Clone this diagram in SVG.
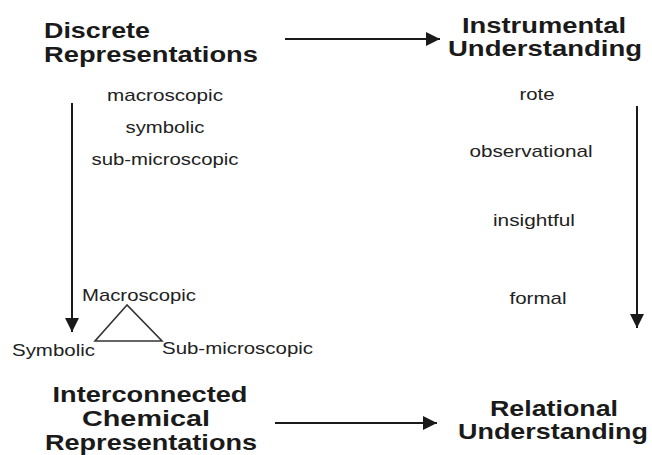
<svg xmlns="http://www.w3.org/2000/svg" width="652" height="455" viewBox="0 0 652 455">
<style>
.h{font-family:"Liberation Sans",Arial,sans-serif;font-weight:bold;font-size:22px;fill:#1a1a1a}
.s{font-family:"Liberation Sans",Arial,sans-serif;font-size:17px;fill:#222}
.ln{stroke:#1a1a1a;stroke-width:2;fill:none}
.tri{stroke:#333;stroke-width:1.6;fill:none}
</style>
<defs>
<marker id="ahv" viewBox="0 0 10 10" refX="10" refY="5" markerWidth="14" markerHeight="14" markerUnits="userSpaceOnUse" orient="auto">
<path d="M0,0 L10,5 L0,10 z" fill="#1a1a1a"/>
</marker>
</defs>
<g id="discrete">
<text class="h" x="44" y="38" textLength="106" lengthAdjust="spacingAndGlyphs">Discrete</text>
<text class="h" x="44" y="62" textLength="214" lengthAdjust="spacingAndGlyphs">Representations</text>
<text class="s" x="165" y="101" text-anchor="middle" textLength="116" lengthAdjust="spacingAndGlyphs">macroscopic</text>
<text class="s" x="165" y="133" text-anchor="middle" textLength="79" lengthAdjust="spacingAndGlyphs">symbolic</text>
<text class="s" x="165" y="165" text-anchor="middle" textLength="147" lengthAdjust="spacingAndGlyphs">sub-microscopic</text>
</g>
<g id="instrumental">
<text class="h" x="544" y="33" text-anchor="middle" textLength="164" lengthAdjust="spacingAndGlyphs">Instrumental</text>
<text class="h" x="545" y="56" text-anchor="middle" textLength="194" lengthAdjust="spacingAndGlyphs">Understanding</text>
<text class="s" x="537" y="100" text-anchor="middle" textLength="35" lengthAdjust="spacingAndGlyphs">rote</text>
<text class="s" x="531" y="157" text-anchor="middle" textLength="123" lengthAdjust="spacingAndGlyphs">observational</text>
<text class="s" x="534" y="226" text-anchor="middle" textLength="82" lengthAdjust="spacingAndGlyphs">insightful</text>
<text class="s" x="538" y="304" text-anchor="middle" textLength="57" lengthAdjust="spacingAndGlyphs">formal</text>
</g>
<g id="triangle">
<polygon class="tri" points="127,305 95,341 162,341"/>
<text class="s" x="82" y="301" textLength="114" lengthAdjust="spacingAndGlyphs">Macroscopic</text>
<text class="s" x="12" y="356" textLength="83" lengthAdjust="spacingAndGlyphs">Symbolic</text>
<text class="s" x="162" y="354" textLength="151" lengthAdjust="spacingAndGlyphs">Sub-microscopic</text>
</g>
<g id="interconnected">
<text class="h" x="150" y="402" text-anchor="middle" textLength="195" lengthAdjust="spacingAndGlyphs">Interconnected</text>
<text class="h" x="146" y="426" text-anchor="middle" textLength="128" lengthAdjust="spacingAndGlyphs">Chemical</text>
<text class="h" x="151" y="450" text-anchor="middle" textLength="212" lengthAdjust="spacingAndGlyphs">Representations</text>
</g>
<g id="relational">
<text class="h" x="554" y="416" text-anchor="middle" textLength="128" lengthAdjust="spacingAndGlyphs">Relational</text>
<text class="h" x="553" y="439" text-anchor="middle" textLength="190" lengthAdjust="spacingAndGlyphs">Understanding</text>
</g>
<g id="connectors">
<line class="ln" x1="285" y1="39" x2="440" y2="39" marker-end="url(#ahv)"/>
<line class="ln" x1="72" y1="103" x2="72" y2="332" marker-end="url(#ahv)"/>
<line class="ln" x1="637" y1="106" x2="637" y2="328" marker-end="url(#ahv)"/>
<line class="ln" x1="275" y1="423" x2="437" y2="423" marker-end="url(#ahv)"/>
</g>
</svg>
